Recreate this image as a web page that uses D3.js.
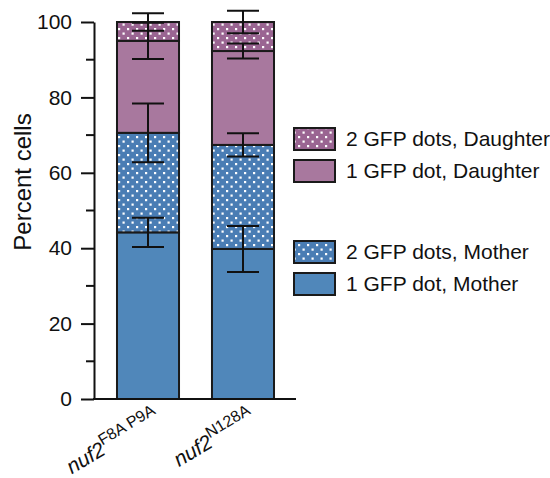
<!DOCTYPE html>
<html>
<head>
<meta charset="utf-8">
<script src="https://cdn.jsdelivr.net/npm/d3@7"></script>
<style>
  body { margin: 0; background: #fff; }
  text { font-family: "Liberation Sans", Arial, sans-serif; fill: #111; }
</style>
</head>
<body>
<svg id="chart" width="550" height="478"></svg>
<script>
"use strict";

// genotypes on the x axis (base name + superscript allele)
const genotypes = ["F8A P9A", "N128A"];
const geneName = "nuf2";

// stack categories, bottom to top
const categories = [
  "1 GFP dot, Mother",
  "2 GFP dots, Mother",
  "1 GFP dot, Daughter",
  "2 GFP dots, Daughter",
];

// mean percent per category (bottom to top) and its error
const meansF8AP9A = [44.2, 26.4, 24.4, 5.0];
const errorsF8AP9A = [3.9, 7.8, 4.8, 2.3];
const meansN128A = [39.8, 27.6, 24.9, 7.7];
const errorsN128A = [6.1, 3.1, 2.0, 3.0];

const yTicks = [0, 20, 40, 60, 80, 100];
const yMinorTicks = [10, 30, 50, 70, 90];

const colors = ["#5087ba", "#4a7db4", "#a8789e", "#9a6592"];
const dotted = [false, true, false, true];

const rows = genotypes.map((g, i) => {
  const means = i === 0 ? meansF8AP9A : meansN128A;
  const row = { genotype: g };
  categories.forEach((c, j) => (row[c] = means[j]));
  return row;
});
const errors = { "F8A P9A": errorsF8AP9A, "N128A": errorsN128A };

const svg = d3.select("#chart");

// dotted fill patterns
const defs = svg.append("defs");
colors.forEach((col, i) => {
  if (!dotted[i]) return;
  const p = defs.append("pattern")
    .attr("id", "dots" + i)
    .attr("patternUnits", "userSpaceOnUse")
    .attr("width", 9)
    .attr("height", 9);
  p.append("rect").attr("width", 9).attr("height", 9).attr("fill", col);
  p.append("rect").attr("x", 1).attr("y", 1).attr("width", 2.2).attr("height", 2.2).attr("fill", "#fff");
  p.append("rect").attr("x", 5.5).attr("y", 5.5).attr("width", 2.2).attr("height", 2.2).attr("fill", "#fff");
});
function fillFor(i) {
  return dotted[i] ? "url(#dots" + i + ")" : colors[i];
}

const x = d3.scaleBand()
  .domain(genotypes)
  .range([94, 297])
  .paddingInner(0.347)
  .paddingOuter(0.242);
const y = d3.scaleLinear().domain([0, 100]).range([399, 22]);

const stacked = d3.stack().keys(categories)(rows);

// bars
const layers = svg.append("g");
stacked.forEach((layer, i) => {
  layers.append("g").selectAll("rect")
    .data(layer)
    .join("rect")
    .attr("x", (d) => x(d.data.genotype))
    .attr("y", (d) => y(d[1]))
    .attr("width", x.bandwidth())
    .attr("height", (d) => y(d[0]) - y(d[1]))
    .attr("fill", fillFor(i))
    .attr("stroke", "#1a1a1a")
    .attr("stroke-width", 2);
});

// error bars, centred on top of each segment
const eb = svg.append("g").attr("stroke", "#111").attr("stroke-width", 2);
stacked.forEach((layer, i) => {
  layer.forEach((d) => {
    const g = d.data.genotype;
    const e = errors[g][i];
    const cx = x(g) + x.bandwidth() / 2;
    const capW = 16;
    eb.append("line").attr("x1", cx).attr("x2", cx).attr("y1", y(d[1] + e)).attr("y2", y(d[1] - e));
    eb.append("line").attr("x1", cx - capW).attr("x2", cx + capW).attr("y1", y(d[1] + e)).attr("y2", y(d[1] + e));
    eb.append("line").attr("x1", cx - capW).attr("x2", cx + capW).attr("y1", y(d[1] - e)).attr("y2", y(d[1] - e));
  });
});

// y axis
const yAxis = svg.append("g")
  .attr("transform", "translate(94,0)")
  .call(d3.axisLeft(y).tickValues(yTicks).tickSize(13).tickPadding(9).tickSizeOuter(0));
yAxis.select(".domain").attr("stroke", "#111").attr("stroke-width", 2);
yAxis.selectAll(".tick line").attr("stroke", "#111").attr("stroke-width", 2);
yAxis.selectAll(".tick text").attr("font-size", 21).attr("fill", "#111")
  .attr("font-family", "Liberation Sans, Arial, sans-serif");

svg.append("g").selectAll("line")
  .data(yMinorTicks)
  .join("line")
  .attr("x1", 86).attr("x2", 94)
  .attr("y1", (d) => y(d)).attr("y2", (d) => y(d))
  .attr("stroke", "#111").attr("stroke-width", 2);

// x baseline
svg.append("line")
  .attr("x1", 93).attr("x2", 296)
  .attr("y1", y(0)).attr("y2", y(0))
  .attr("stroke", "#111").attr("stroke-width", 2);

// y title
svg.append("text")
  .attr("transform", "translate(31,182) rotate(-90)")
  .attr("text-anchor", "middle")
  .attr("font-size", 24)
  .text("Percent cells");

// x labels, rotated, italic gene name with superscript allele
genotypes.forEach((g) => {
  const cx = x(g) + x.bandwidth() / 2;
  const t = svg.append("text")
    .attr("transform", "translate(" + (cx + 13) + ",421) rotate(-31)")
    .attr("text-anchor", "end")
    .attr("font-size", 21);
  t.append("tspan").attr("font-style", "italic").text(geneName);
  t.append("tspan").attr("font-size", 16).attr("dy", -9).text(g);
});

// legend (daughter group above mother group)
const legendOrder = [3, 2, 1, 0];
const legendY = [128, 160, 241, 273];
const legend = svg.append("g");
legendOrder.forEach((ci, k) => {
  legend.append("rect")
    .attr("x", 294).attr("y", legendY[k])
    .attr("width", 41).attr("height", 22)
    .attr("fill", fillFor(ci))
    .attr("stroke", "#1a1a1a").attr("stroke-width", 2);
  legend.append("text")
    .attr("x", 346).attr("y", legendY[k] + 11)
    .attr("dy", "0.35em")
    .attr("font-size", 21)
    .text(categories[ci]);
});
</script>
</body>
</html>
